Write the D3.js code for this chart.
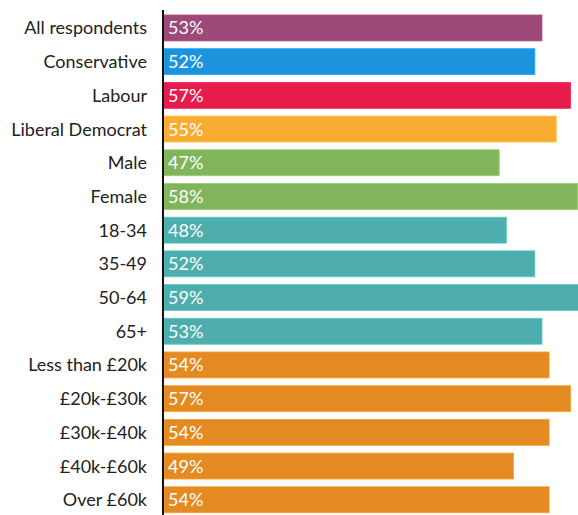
<!DOCTYPE html>
<html>
<head>
<meta charset="utf-8">
<script src="https://cdn.jsdelivr.net/npm/d3@7"></script>
<style>
  html, body { margin: 0; padding: 0; background: #fff; }
  svg { display: block; }
</style>
</head>
<body>
<svg id="chart" width="578" height="515"></svg>
<script>
const categories = ["All respondents", "Conservative", "Labour", "Liberal Democrat", "Male", "Female", "18-34", "35-49", "50-64", "65+", "Less than £20k", "£20k-£30k", "£30k-£40k", "£40k-£60k", "Over £60k"];
const values = [53, 52, 57, 55, 47, 58, 48, 52, 59, 53, 54, 57, 54, 49, 54];
const groups = ["all", "con", "lab", "ld", "gender", "gender", "age", "age", "age", "age", "income", "income", "income", "income", "income"];
const groupNames = ["all", "con", "lab", "ld", "gender", "age", "income"];
const groupColors = ["#9c4878", "#1b93dd", "#e61c4d", "#f9ac33", "#81b55b", "#4daead", "#e48a22"];

const svg = d3.select("#chart");
const x0 = 164;
const x = d3.scaleLinear().domain([0, 53]).range([x0, 542]);
const y = d3.scaleBand().domain(categories).range([11.1, 516.6]).paddingInner(0.23).paddingOuter(0.115);
const color = d3.scaleOrdinal().domain(groupNames).range(groupColors);
const font = "Lato, 'Open Sans', sans-serif";

const data = categories.map((c, i) => ({ cat: c, v: values[i], g: groups[i] }));

svg.selectAll("rect.bar").data(data).join("rect")
  .attr("class", "bar")
  .attr("x", x(0))
  .attr("y", d => y(d.cat))
  .attr("width", d => x(d.v) - x(0))
  .attr("height", y.bandwidth())
  .attr("fill", d => color(d.g))
  .attr("stroke", d => d3.color(color(d.g)).brighter(0.4))
  .attr("stroke-width", 0.8);

svg.selectAll("text.val").data(data).join("text")
  .attr("class", "val")
  .attr("x", x(0) + 4)
  .attr("y", d => y(d.cat) + y.bandwidth() / 2)
  .attr("dy", "0.36em")
  .attr("fill", "#fff")
  .attr("font-family", font)
  .attr("font-size", 18)
  .text(d => d.v + "%");

svg.selectAll("text.cat").data(data).join("text")
  .attr("class", "cat")
  .attr("x", 147)
  .attr("y", d => y(d.cat) + y.bandwidth() / 2)
  .attr("dy", "0.36em")
  .attr("text-anchor", "end")
  .attr("fill", "#222")
  .attr("font-family", font)
  .attr("font-size", 18)
  .text(d => d.cat);

svg.append("line")
  .attr("x1", 163).attr("x2", 163)
  .attr("y1", 10).attr("y2", 515)
  .attr("stroke", "#111")
  .attr("stroke-width", 2);
</script>
</body>
</html>
